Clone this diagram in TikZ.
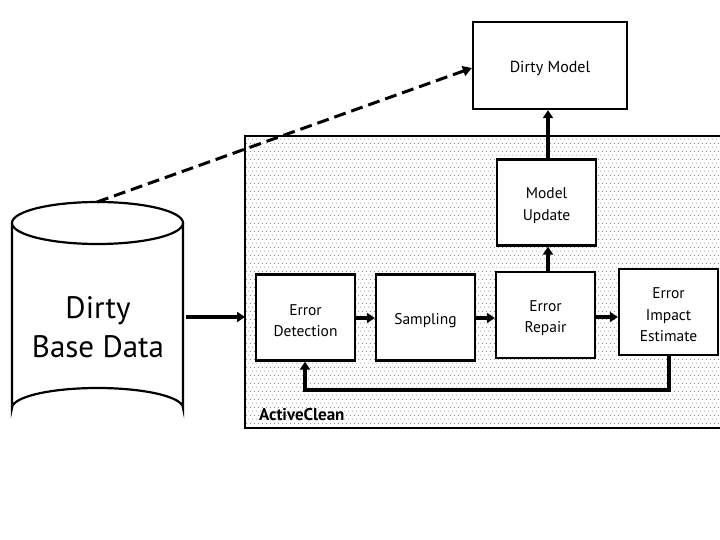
\documentclass[tikz,border=0pt]{standalone}
\usepackage{fontspec}
\setmainfont{PT Sans}
\usetikzlibrary{arrows.meta,patterns.meta,shapes.geometric}
\tikzdeclarepattern{
  name=acdots,
  type=uncolored,
  bottom left={(0pt,0pt)},
  top right={(4pt,8pt)},
  tile size={(4pt,8pt)},
  code={
    \fill (0.5pt,0.5pt) rectangle (1.5pt,1.5pt);
    \fill (2.5pt,4.5pt) rectangle (3.5pt,5.5pt);
  }
}
\begin{document}
\begin{tikzpicture}[x=1pt,y=-1pt,
  procbox/.style={draw=black,line width=2.2pt,fill=white,minimum width=99pt,minimum height=86pt,inner sep=0pt,align=center,font=\fontsize{15.5}{21.5}\selectfont},
  boxtext/.style={inner sep=0pt,align=center,font=\fontsize{15.5}{21.5}\selectfont},
  flow/.style={line width=3.2pt,-{Triangle[length=8pt,width=10pt]}},
  ]
\useasboundingbox (0,0) rectangle (720,540);
% ActiveClean container
\path[fill=white] (245,136) rectangle (740,428);
\path[pattern=acdots,pattern color=black!45] (245,136) rectangle (740,428);
\draw[line width=2.2pt] (740,136) -- (245,136) -- (245,428) -- (740,428);
\node[anchor=south west,inner sep=0pt,font=\fontsize{17}{19}\selectfont\bfseries] (aclabel) at (259,421) {ActiveClean};
% Dirty Model
\node[procbox,minimum width=154pt,minimum height=87pt] (dm) at (550,65.5) {};
\node[boxtext,font=\fontsize{16}{19}\selectfont] (dmt) at ([yshift=-3pt]dm.center) {Dirty Model};
% Cylinder
\draw[line width=2.2pt,fill=white] (12,223) -- (12,408) arc[start angle=180,end angle=360,x radius=85.5,y radius=20] -- (183,223);
\draw[line width=2.2pt,fill=white] (97.5,223) ellipse[x radius=85.5,y radius=21];
\node[align=center,font=\fontsize{31}{39}\selectfont] (db) at (98,327) {Dirty\\Base Data};
\coordinate (dbtop) at (97,202);
\coordinate (dbright) at (186,317);
% process boxes
\node[procbox] (ed) at (305.5,317.5) {};
\node[procbox] (sa) at (425.5,317.5) {};
\node[procbox] (er) at (545.5,315) {};
\node[procbox] (ei) at (668.5,312) {};
\node[procbox] (mu) at (546.5,202.5) {};
\node[boxtext] (edt) at ([yshift=-3pt]ed.center) {Error\\Detection};
\node[boxtext] (sat) at ([yshift=-3pt]sa.center) {Sampling};
\node[boxtext] (ert) at ([yshift=-3pt]er.center) {Error\\Repair};
\node[boxtext] (eit) at ([yshift=-3pt]ei.center) {Error\\Impact\\Estimate};
\node[boxtext] (mut) at ([yshift=-3pt]mu.center) {Model\\Update};
% connectors
\draw[flow] (dbright) -- (245,317);
\draw[flow] (ed.east |- 0,318) -- (sa.west |- 0,318);
\draw[flow] (sa.east |- 0,318) -- (er.west |- 0,318);
\draw[flow] (er.east |- 0,317) -- (ei.west |- 0,317);
\draw[flow] (er.north -| 548,0) -- (mu.south -| 548,0);
\draw[flow] (mu.north -| 548,0) -- (dm.south -| 548,0);
\draw[flow] (ei.south -| 669,0) -- (669,390) -- (305,390) -- (ed.south -| 305,0);
\draw[line width=3pt,dash pattern=on 12pt off 6pt,-{Triangle[length=9pt,width=10pt]}] (dbtop) -- (dm.west |- 0,68);
\end{tikzpicture}
\end{document}
